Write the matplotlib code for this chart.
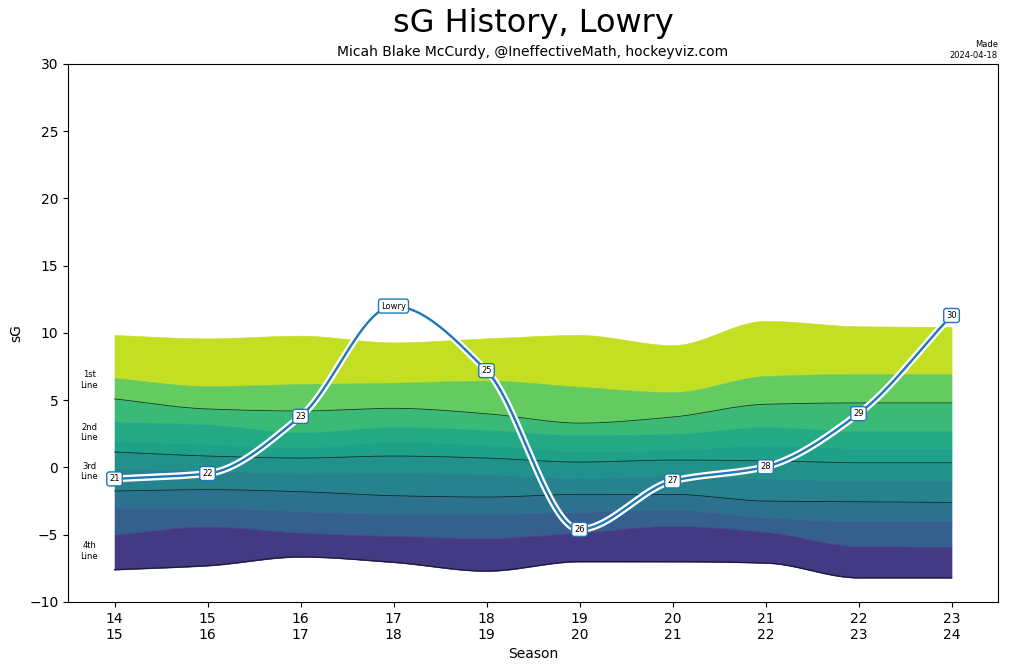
import numpy as np
import matplotlib
matplotlib.use("Agg")
import matplotlib.pyplot as plt

# seasons 2014-15 .. 2023-24
seasons = ["14\n15", "15\n16", "16\n17", "17\n18", "18\n19",
           "19\n20", "20\n21", "21\n22", "22\n23", "23\n24"]

# player sG by season, and the point labels (age, name at one point)
player_sg = [-0.85, -0.45, 3.8, 12.0, 7.2, -4.6, -1.0, 0.05, 4.0, 11.3]
point_labels = ["21", "22", "23", "Lowry", "25", "26", "27", "28", "29", "30"]

# band boundaries, top to bottom
top_edge = [9.85, 9.6, 9.8, 9.3, 9.6, 9.85, 9.1, 10.9, 10.5, 10.45]
b_1 = [6.65, 6.05, 6.2, 6.3, 6.45, 6.0, 5.6, 6.8, 6.95, 6.95]
line_1 = [5.1, 4.35, 4.2, 4.4, 4.0, 3.3, 3.75, 4.7, 4.8, 4.8]
b_3 = [3.4, 3.2, 2.6, 3.0, 2.8, 2.4, 2.5, 3.0, 2.7, 2.7]
b_4 = [1.95, 1.75, 1.5, 1.9, 1.7, 1.2, 1.3, 1.65, 1.45, 1.45]
line_2 = [1.15, 0.85, 0.7, 0.85, 0.7, 0.4, 0.55, 0.5, 0.35, 0.35]
b_6 = [-0.05, -0.2, -0.4, -0.35, -0.5, -0.8, -0.6, -0.8, -0.95, -0.95]
line_3 = [-1.75, -1.65, -1.8, -2.1, -2.2, -2.0, -2.0, -2.5, -2.55, -2.6]
b_8 = [-3.0, -3.0, -3.25, -3.45, -3.45, -3.3, -3.15, -3.7, -4.0, -4.0]
b_9 = [-5.0, -4.4, -4.85, -5.1, -5.25, -4.85, -4.35, -4.8, -5.85, -5.9]
bottom_edge = [-7.6, -7.3, -6.65, -7.05, -7.7, -7.0, -7.0, -7.1, -8.2, -8.2]

band_colors = ['#c2df23', '#63cb5f', '#3aba76', '#23a983', '#1fa088',
               '#21918c', '#26838e', '#2c718e', '#355f8d', '#443983']

line_names = ["1st\nLine", "2nd\nLine", "3rd\nLine", "4th\nLine"]
line_name_y = [6.5, 2.6, -0.3, -6.2]


def pchip(x, y, xn):
    x = np.asarray(x, float)
    y = np.asarray(y, float)
    h = np.diff(x)
    d = np.diff(y) / h
    m = np.zeros_like(y)
    for k in range(1, len(x) - 1):
        if d[k - 1] * d[k] > 0:
            w1 = 2 * h[k] + h[k - 1]
            w2 = h[k] + 2 * h[k - 1]
            m[k] = (w1 + w2) / (w1 / d[k - 1] + w2 / d[k])
    m[0] = d[0]
    m[-1] = d[-1]
    idx = np.clip(np.searchsorted(x, xn) - 1, 0, len(x) - 2)
    t = (xn - x[idx]) / h[idx]
    h00 = 2 * t**3 - 3 * t**2 + 1
    h10 = t**3 - 2 * t**2 + t
    h01 = -2 * t**3 + 3 * t**2
    h11 = t**3 - t**2
    return h00 * y[idx] + h10 * h[idx] * m[idx] + h01 * y[idx + 1] + h11 * h[idx] * m[idx + 1]


x = np.arange(len(seasons))
xs = np.linspace(0, len(seasons) - 1, 600)

fig = plt.figure(figsize=(10.12, 6.72), dpi=100)
ax = fig.add_axes([0.0672, 0.1042, 0.9190, 0.8006])

edges = [top_edge, b_1, line_1, b_3, b_4, line_2, b_6, line_3, b_8, b_9, bottom_edge]
smooth = [pchip(x, e, xs) for e in edges]
for i, col in enumerate(band_colors):
    ax.fill_between(xs, smooth[i + 1], smooth[i], facecolor=col, edgecolor=col,
                    lw=0.4, zorder=1)

for e in [line_1, line_2, line_3]:
    ax.plot(xs, pchip(x, e, xs), color='black', lw=0.6, alpha=0.7, zorder=2)
ax.plot(xs, pchip(x, bottom_edge, xs), color='#1a1a3a', lw=0.9, zorder=2)

for name, yy in zip(line_names, line_name_y):
    ax.text(-0.27, yy, name, fontsize=6, ha='center', va='center')

ys = pchip(x, player_sg, xs)
ax.plot(xs, ys, color='white', lw=5, zorder=3, solid_capstyle='round')
ax.plot(xs, ys, color='#1f77b4', lw=1.7, zorder=4)
for xi, yi, lab in zip(x, player_sg, point_labels):
    ax.text(xi, yi, lab, fontsize=6, ha='center', va='center', zorder=5,
            bbox=dict(boxstyle='round,pad=0.3', fc='white', ec='#1f77b4', lw=1))

ax.set_xlim(-0.5, 9.5)
ax.set_ylim(-10, 30)
ax.set_yticks(range(-10, 31, 5))
ax.set_xticks(x)
ax.set_xticklabels(seasons)
ax.set_xlabel("Season")
ax.set_ylabel("sG")

fig.text(0.5267, 0.965, "sG History, Lowry", fontsize=23, ha='center', va='center')
fig.text(0.5267, 0.922, "Micah Blake McCurdy, @IneffectiveMath, hockeyviz.com",
         fontsize=10, ha='center', va='center')
fig.text(0.986, 0.911, "Made\n2024-04-18", fontsize=6, ha='right', va='bottom',
         multialignment='right')

fig.savefig("out.png", dpi=100)
